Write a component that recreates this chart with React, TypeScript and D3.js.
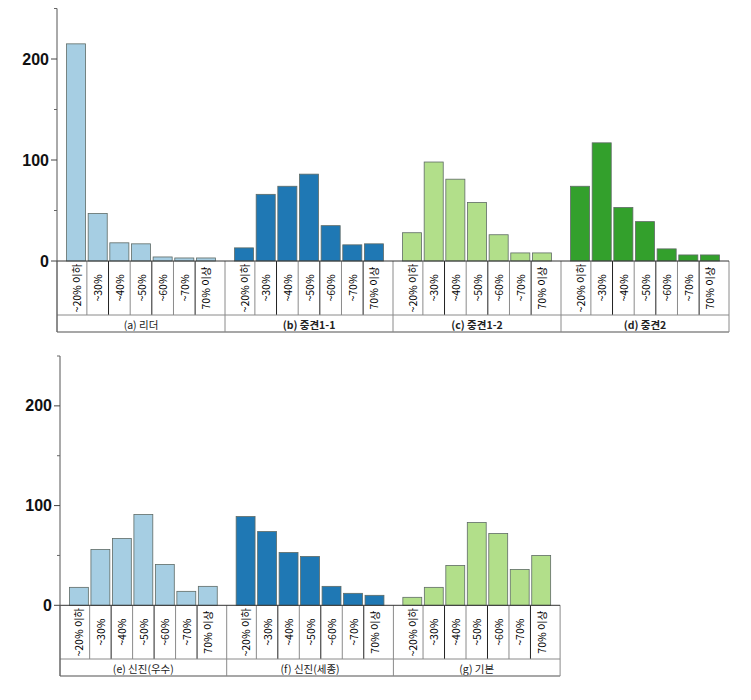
import React from "react";
import * as d3 from "d3";

const categories = ["~20% 이하", "~30%", "~40%", "~50%", "~60%", "~70%", "70% 이상"];

const groupsTop = ["(a) 리더", "(b) 중견1-1", "(c) 중견1-2", "(d) 중견2"];
const groupsBottom = ["(e) 신진(우수)", "(f) 신진(세종)", "(g) 기본"];

const valuesA = [215, 47, 18, 17, 4, 3, 3];
const valuesB = [13, 66, 74, 86, 35, 16, 17];
const valuesC = [28, 98, 81, 58, 26, 8, 8];
const valuesD = [74, 117, 53, 39, 12, 6, 6];
const valuesE = [18, 56, 67, 91, 41, 14, 19];
const valuesF = [89, 74, 53, 49, 19, 12, 10];
const valuesG = [8, 18, 40, 83, 72, 36, 50];

const majorTicks = [0, 100, 200];
const minorTicks = [50, 150, 250];

const colorA = "#a6cee3";
const colorB = "#1f78b4";
const colorC = "#b2df8a";
const colorD = "#33a02c";

const topGroups = [
  { label: groupsTop[0], values: valuesA, color: colorA, bold: false },
  { label: groupsTop[1], values: valuesB, color: colorB, bold: true },
  { label: groupsTop[2], values: valuesC, color: colorC, bold: true },
  { label: groupsTop[3], values: valuesD, color: colorD, bold: true },
];
const bottomGroups = [
  { label: groupsBottom[0], values: valuesE, color: colorA, bold: false },
  { label: groupsBottom[1], values: valuesF, color: colorB, bold: false },
  { label: groupsBottom[2], values: valuesG, color: colorC, bold: false },
];

type Group = { label: string; values: number[]; color: string; bold: boolean };

function Panel({
  groups, x0, groupWidth, zeroY, topY, catBottom, groupBottom,
}: {
  groups: Group[]; x0: number; groupWidth: number; zeroY: number; topY: number; catBottom: number; groupBottom: number;
}) {
  const y = d3.scaleLinear().domain([0, 250]).range([zeroY, topY]);
  const xEnd = x0 + groupWidth * groups.length;
  const gridColor = "#8a8a8a";
  const catMid = (zeroY + catBottom) / 2;
  return (
    <g>
      {groups.map((g, gi) => {
        const gx = x0 + gi * groupWidth;
        const x = d3.scaleBand<string>().domain(categories).range([gx, gx + groupWidth]).paddingInner(0.12).paddingOuter(0.44);
        const step = x.step();
        const bw = x.bandwidth();
        return (
          <g key={g.label}>
            {categories.map((c, i) => (
              <rect key={c} x={x(c)} y={y(g.values[i])} width={bw} height={zeroY - y(g.values[i])}
                fill={g.color} stroke="#5f6b66" strokeWidth={0.8} />
            ))}
            {categories.slice(0, -1).map((c, i) => {
              const dx = (x(c) as number) + bw + (step - bw) / 2;
              return <line key={"d" + c} x1={dx} x2={dx} y1={zeroY} y2={catBottom} stroke={i % 2 === 1 ? "#222" : gridColor} strokeWidth={1} />;
            })}
            {categories.map((c) => (
              <text key={"t" + c}
                transform={`translate(${(x(c) as number) + bw / 2},${catMid}) rotate(-90)`}
                textAnchor="middle" dominantBaseline="central"
                fontFamily="'Noto Sans CJK KR', 'Noto Sans', sans-serif" fontSize={10.5} fill="#000">
                {c}
              </text>
            ))}
            <text x={gx + groupWidth / 2} y={(catBottom + groupBottom) / 2 + 0.5} textAnchor="middle" dominantBaseline="central"
              fontFamily="'Noto Sans CJK KR', 'Noto Sans', sans-serif" fontSize={10.5} fontWeight={g.bold ? 700 : 400} fill="#222">
              {g.label}
            </text>
            <line x1={gx} x2={gx} y1={zeroY} y2={groupBottom} stroke={gridColor} />
          </g>
        );
      })}
      <line x1={xEnd} x2={xEnd} y1={zeroY} y2={groupBottom} stroke={gridColor} />
      <line x1={x0} x2={xEnd} y1={catBottom} y2={catBottom} stroke={gridColor} />
      <line x1={x0} x2={xEnd} y1={groupBottom} y2={groupBottom} stroke={gridColor} strokeWidth={1.5} />
      <line x1={x0} x2={xEnd} y1={zeroY} y2={zeroY} stroke="#333" />
      <line x1={x0} x2={x0} y1={topY} y2={groupBottom} stroke="#555" />
      {majorTicks.map((t) => (
        <g key={"m" + t}>
          <line x1={x0 - 6} x2={x0} y1={y(t)} y2={y(t)} stroke="#444" />
          <text x={x0 - 8} y={y(t)} textAnchor="end" dominantBaseline="central"
            fontFamily="'Liberation Sans', Arial, sans-serif" fontWeight={700} fontSize={16} fill="#111">
            {t}
          </text>
        </g>
      ))}
      {minorTicks.map((t) => (
        <line key={"n" + t} x1={x0 - 3} x2={x0} y1={y(t)} y2={y(t)} stroke="#666" />
      ))}
    </g>
  );
}

export default function App() {
  return (
    <svg width={751} height={700} style={{ position: "absolute", left: 0, top: 0, background: "#fff" }}>
      <rect x={0} y={0} width={751} height={700} fill="#fff" />
      <Panel groups={topGroups} x0={57} groupWidth={168} zeroY={261} topY={8.5} catBottom={315} groupBottom={332} />
      <Panel groups={bottomGroups} x0={60} groupWidth={166.7} zeroY={605.3} topY={356} catBottom={659} groupBottom={676} />
    </svg>
  );
}
